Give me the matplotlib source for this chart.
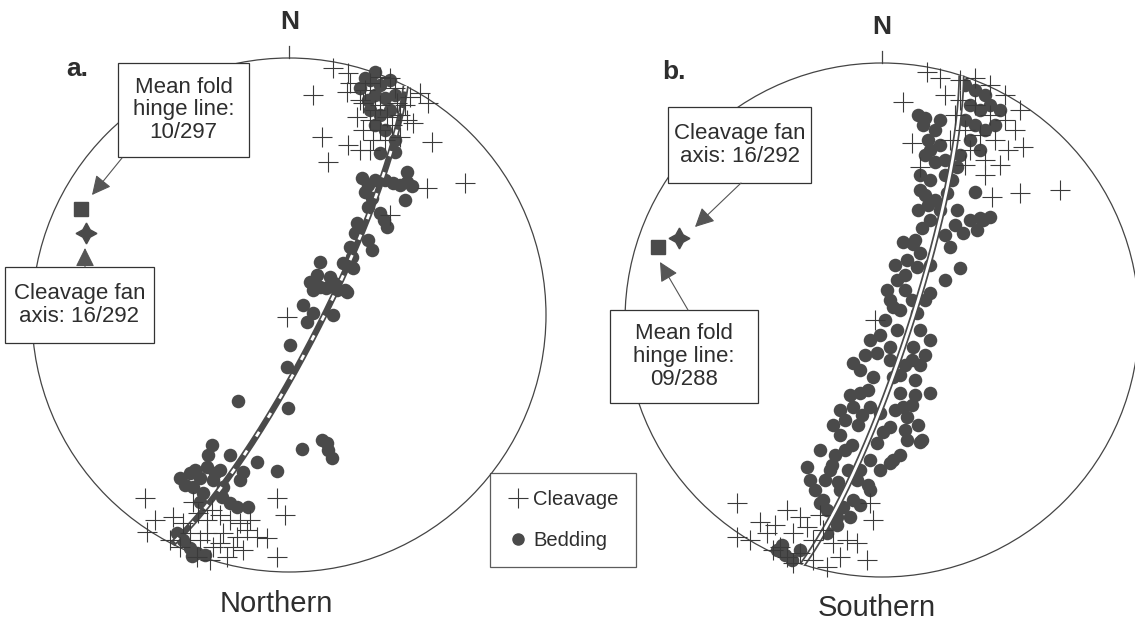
import numpy as np
import matplotlib.pyplot as plt
from matplotlib.lines import Line2D
from matplotlib.patches import Circle, Rectangle

plt.rcParams['font.family'] = ['Liberation Sans', 'DejaVu Sans']

R_NET = 257  # radius of the primitive circle, in net units

# (plunge, trend) of the structural axes
hinge_a = (10, 297)
fan_a = (16, 292)
hinge_b = (9, 288)
fan_b = (16, 292)

bedding_a = [
    (81, 235), (91, 230), (101, 235), (86, 220), (96, 217), (106, 220), (81, 205),
    (91, 200), (101, 205), (86, 190), (96, 185), (106, 175), (91, 162), (106, 163),
    (118, 143), (73, 137), (79, 130), (76, 123), (83, 117), (86, 135), (96, 135),
    (104, 132), (111, 130), (118, 133), (123, 129), (116, 115), (79, 108), (91, 102),
    (95, 95), (98, 88), (68, 92), (66, 82), (79, 75), (83, 65), (61, 68), (63, 58),
    (54, 52), (64, 47), (31, 53), (28, 40), (41, 38), (45, 32), (48, 25), (24, 25),
    (56, 25), (37, 27), (14, 10), (24, 2), (44, 0), (21, 33), (31, 28), (58, 23),
    (18, -7), (1, -30), (-2, -52), (-1, -93), (-51, -86), (-77, -130), (-81, -140),
    (-59, -140), (-32, -147), (-46, -157), (-12, -156), (13, -134), (38, -128),
    (39, -135), (43, -143), (33, -125), (-109, -163), (-99, -158), (-96, -172),
    (-82, -152), (-76, -165), (-69, -155), (-86, -178), (-66, -172), (-104, -170),
    (-89, -163), (-49, -165), (-67, -182), (-59, -188), (-52, -192), (-41, -192),
    (-89, -187), (-112, -218), (-106, -225), (-99, -233), (-92, -238), (-84, -240),
    (-97, -241), (76, 237), (86, 243), (79, 215), (71, 227), (-94, -155), (-74, -158),
]
cleavage_a = [
    (44, 247), (59, 242), (61, 232), (24, 220), (58, 223), (81, 232), (91, 238),
    (101, 237), (74, 212), (91, 210), (108, 212), (121, 218), (131, 222), (139, 212),
    (68, 198), (81, 195), (98, 198), (118, 195), (124, 192), (74, 185), (91, 185),
    (111, 178), (84, 175), (33, 178), (59, 170), (71, 165), (81, 165), (39, 153),
    (143, 173), (176, 132), (138, 127), (101, 100), (-2, -2), (76, 225), (106, 227),
    (86, 205), (111, 200), (96, 175), (103, 190), (71, 215), (116, 210),
    (-144, -183), (-142, -217), (-12, -183), (-4, -200), (-12, -242), (-134, -205),
    (-116, -202), (-96, -187), (-82, -205), (-69, -200), (-59, -205), (-49, -208),
    (-39, -205), (-32, -222), (-22, -223), (-46, -235), (-62, -242), (-76, -232),
    (-89, -225), (-99, -218), (-109, -232), (-92, -242), (-79, -245), (-66, -218),
    (-52, -222), (-82, -218), (-69, -228), (-56, -232), (-42, -215), (-119, -225),
    (-106, -208), (-91, -198), (-77, -195),
]
bedding_b = [
    (83, 235), (93, 230), (103, 225), (88, 215), (98, 210), (108, 215), (83, 200),
    (93, 195), (103, 190), (113, 195), (118, 210), (88, 180), (98, 170), (78, 165),
    (36, 205), (93, 128), (101, 100), (95, 90), (41, 195), (53, 190), (46, 180),
    (58, 175), (43, 165), (53, 158), (38, 145), (48, 140), (43, 125), (53, 120),
    (36, 110), (48, 100), (40, 92), (21, 78), (31, 76), (38, 67), (25, 60), (35, 53),
    (15, 40), (5, 30), (11, 13), (23, 30), (30, 20), (15, -10), (8, -27), (-12, -20),
    (-5, -33), (-29, -43), (-22, -50), (-9, -57), (-22, -73), (-12, -87), (-2, -93),
    (-29, -87), (-37, -100), (-24, -105), (-42, -115), (-30, -125), (-47, -135),
    (-34, -150), (-44, -162), (-62, -130), (-75, -147), (-72, -160), (-67, -170),
    (-59, -180), (-62, -183), (-52, -150), (75, 153), (65, 127), (75, 110), (81, 87),
    (68, 73), (63, 160), (70, 140), (73, 95), (88, 100), (98, 102), (108, 103),
    (78, 52), (63, 40), (48, 27), (35, 7), (38, -10), (48, -20), (31, -27), (48, -73),
    (11, -57), (18, -73), (21, -87), (25, -97), (8, -107), (-5, -123), (-12, -140),
    (-22, -150), (-25, -160), (11, -140), (25, -120), (40, -120), (8, -143),
    (-14, -165), (-29, -180), (-39, -187), (-32, -197), (-45, -205), (-55, -213),
    (38, -122), (30, -85), (33, -60), (23, -45), (-55, -190), (-45, -197),
    (-105, -230), (-97, -235), (-90, -240), (-82, -230), (-100, -225),
    (43, 202), (58, 200), (48, 170), (38, 130), (46, 115), (33, 80), (13, 55),
    (23, 45), (8, 20), (18, 10), (3, 0), (-2, -15), (8, -40), (-17, -35), (-14, -70),
    (-32, -75), (-20, -95), (-42, -90), (-49, -105), (-37, -130), (-50, -145),
    (-42, -170), (-57, -160), (63, 145), (58, 110), (63, 85), (48, 55), (43, 20),
    (43, -35), (38, -45), (33, -75), (36, -105), (23, -110), (13, -90), (1, -112),
    (18, -135), (-2, -150), (-12, -170), (-22, -185), (18, -55), (30, -40),
]
cleavage_b = [
    (45, 248), (58, 242), (21, 218), (30, 177), (38, 153), (141, 173), (138, 210),
    (110, 123), (138, 127), (178, 130), (-7, 0), (78, 240), (93, 242), (108, 235),
    (123, 225), (78, 220), (93, 215), (108, 205), (123, 200), (133, 190), (83, 190),
    (98, 185), (113, 180), (126, 170), (88, 170), (103, 160), (73, 205), (63, 225),
    (68, 180), (118, 155), (103, 145), (83, 155),
    (-145, -183), (-145, -217), (-122, -202), (-115, -213), (-102, -227), (-89, -213),
    (-75, -207), (-69, -220), (-95, -190), (-82, -197), (-59, -210), (-49, -223),
    (-35, -220), (-25, -223), (-15, -240), (-12, -183), (-9, -200), (-95, -237),
    (-82, -233), (-69, -240), (-55, -247), (-42, -237), (-109, -230), (-89, -243),
    (-62, -195), (-107, -205), (-132, -220),
]

DARK = '#4a4a4a'
INK = '#2e2e2e'


def project(plunge, trend):
    # lower hemisphere equal-area (Schmidt) net
    pl, tr = np.radians(plunge), np.radians(trend)
    r = R_NET * np.sqrt(2) * np.sin((np.pi / 2 - pl) / 2)
    return r * np.sin(tr), r * np.cos(tr)


def great_circle(pole):
    pl, tr = np.radians(pole[0]), np.radians(pole[1])
    a = np.array([np.cos(pl) * np.sin(tr), np.cos(pl) * np.cos(tr), np.sin(pl)])
    u = np.cross(a, [0, 0, 1.0])
    u /= np.linalg.norm(u)
    w = np.cross(a, u)
    if w[2] < 0:
        w = -w
    t = np.linspace(0, np.pi, 200)
    v = np.outer(np.cos(t), u) + np.outer(np.sin(t), w)
    plunge = np.degrees(np.arcsin(np.clip(v[:, 2], -1, 1)))
    trend = np.degrees(np.arctan2(v[:, 0], v[:, 1]))
    return project(plunge, trend)


def draw_net(ax, bedding, cleavage, hinge, fan, dash):
    ax.add_patch(Circle((0, 0), R_NET, fill=False, ec='#444444', lw=0.9))
    ax.plot([0, 0], [R_NET, R_NET + 12], color='#444444', lw=0.9)
    b = np.array(bedding)
    ax.scatter(b[:, 0], b[:, 1], s=95, color=DARK, lw=0, zorder=2)
    gx, gy = great_circle(hinge)
    ax.plot(gx, gy, color=DARK, lw=4.5, zorder=3, solid_capstyle='butt')
    ax.plot(gx, gy, color='white', lw=2.0, zorder=3, dashes=dash)
    c = np.array(cleavage)
    ax.scatter(c[:, 0], c[:, 1], s=200, marker='+', color='#3a3a3a', lw=0.8, zorder=4)
    hx, hy = project(*hinge)
    ax.plot(hx, hy, marker='s', ms=9.5, color=DARK, zorder=5)
    fx, fy = project(*fan)
    ax.plot(fx, fy, marker=(4, 1, 0), ms=15, color=DARK, zorder=5)
    ax.axis('off')


def note(ax, x0, x1, y0, y1, text):
    ax.add_patch(Rectangle((x0, y0), x1 - x0, y1 - y0, fc='white', ec='#333333',
                           lw=0.9, zorder=6))
    ax.text((x0 + x1) / 2, (y0 + y1) / 2, text, ha='center', va='center',
            fontsize=16, linespacing=1.12, color=INK, zorder=7)


def arrow(ax, start, tip):
    ax.annotate('', xy=tip, xytext=start, zorder=7,
                arrowprops=dict(arrowstyle='-|>,head_length=0.9,head_width=0.45',
                                color='#555555', lw=0.8, mutation_scale=13,
                                shrinkA=0, shrinkB=0))


fig = plt.figure(figsize=(11.35, 6.22), dpi=100)

ax_a = fig.add_axes([0, 0, 567 / 1135, 1])
ax_a.set_xlim(-289, 278)
ax_a.set_ylim(-307, 315)
draw_net(ax_a, bedding_a, cleavage_a, hinge_a, fan_a, (2, 6))
ax_a.text(1, 293, 'N', ha='center', va='center', fontsize=19, fontweight='bold', color=INK)
ax_a.text(-212, 246, 'a.', ha='center', va='center', fontsize=19, fontweight='bold', color=INK)
note(ax_a, -171, -40, 158, 252, 'Mean fold\nhinge line:\n10/297')
note(ax_a, -284, -135, -28, 48, 'Cleavage fan\naxis: 16/292')
arrow(ax_a, (-167, 157), (-197, 120))
arrow(ax_a, (-204, 48), (-204, 67))
ax_a.text(-13, -289, 'Northern', ha='center', va='center', fontsize=21, color=INK)

ax_b = fig.add_axes([567 / 1135, 0, 568 / 1135, 1])
ax_b.set_xlim(-315, 253)
ax_b.set_ylim(-302, 320)
draw_net(ax_b, bedding_b, cleavage_b, hinge_b, fan_b, (1, 0))
ax_b.text(0, 293, 'N', ha='center', va='center', fontsize=19, fontweight='bold', color=INK)
ax_b.text(-208, 248, 'b.', ha='center', va='center', fontsize=19, fontweight='bold', color=INK)
note(ax_b, -214, -71, 137, 213, 'Cleavage fan\naxis: 16/292')
note(ax_b, -272, -124, -83, 10, 'Mean fold\nhinge line:\n09/288')
arrow(ax_b, (-141, 137), (-187, 93))
arrow(ax_b, (-194, 10), (-222, 58))
ax_b.text(-5, -288, 'Southern', ha='center', va='center', fontsize=21, color=INK)

handles = [Line2D([], [], ls='none', marker='+', ms=14, mew=0.8, color='#3a3a3a'),
           Line2D([], [], ls='none', marker='o', ms=8, color=DARK)]
leg = fig.legend(handles, ['Cleavage', 'Bedding'], loc='center',
                 bbox_to_anchor=(563 / 1135, 1 - 520 / 622), fontsize=14.5,
                 frameon=True, fancybox=False, edgecolor='#333333',
                 labelspacing=1.05, handletextpad=0.2, borderpad=0.85,
                 handlelength=1.1, borderaxespad=0)
leg.get_frame().set_linewidth(0.9)
for t in leg.get_texts():
    t.set_color(INK)

fig.savefig('out.png', dpi=100)
